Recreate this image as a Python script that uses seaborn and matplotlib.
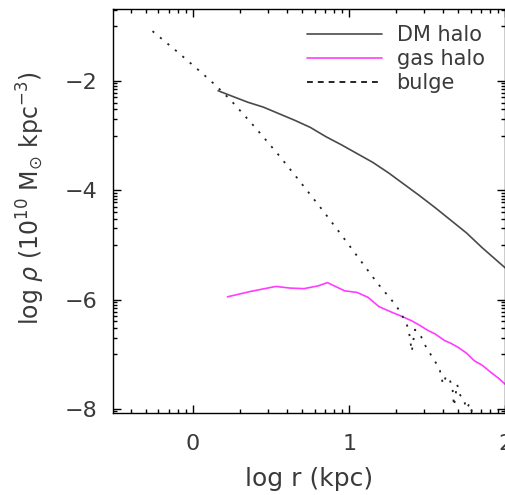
import numpy as np
import pandas as pd
import matplotlib
matplotlib.use("Agg")
import matplotlib.pyplot as plt
from matplotlib.lines import Line2D
from matplotlib.ticker import FixedLocator
import seaborn as sns

# Density profiles: log r [kpc] vs log rho [1e10 Msun kpc^-3]
dm_logr = [0.16, 0.25, 0.35, 0.45, 0.55, 0.65, 0.75, 0.85, 0.95, 1.05,
           1.15, 1.25, 1.35, 1.45, 1.55, 1.65, 1.75, 1.85, 1.95, 2.01]
dm_logrho = [-2.18, -2.28, -2.39, -2.48, -2.60, -2.72, -2.85, -3.02, -3.17, -3.33,
             -3.49, -3.68, -3.89, -4.10, -4.32, -4.55, -4.78, -5.05, -5.30, -5.45]

gas_logr = [0.22, 0.37, 0.53, 0.62, 0.71, 0.80, 0.86, 0.97, 1.05, 1.12, 1.19,
            1.27, 1.33, 1.40, 1.45, 1.50, 1.55, 1.61, 1.65, 1.70, 1.75, 1.80,
            1.85, 1.91, 1.96, 2.01]
gas_logrho = [-5.95, -5.85, -5.76, -5.79, -5.80, -5.75, -5.69, -5.84, -5.87, -5.96, -6.13,
              -6.23, -6.30, -6.39, -6.47, -6.56, -6.63, -6.75, -6.80, -6.88, -6.98, -7.12,
              -7.20, -7.34, -7.45, -7.58]

bulge_logr = [-0.26, -0.10, 0.05, 0.14, 0.24, 0.40, 0.54, 0.67, 0.83, 0.95, 1.07,
              1.18, 1.30, 1.36, 1.38, 1.40, 1.42, 1.44, 1.46, 1.48, 1.50, 1.52,
              1.54, 1.56, 1.58, 1.60, 1.62, 1.64, 1.66, 1.67, 1.69, 1.71, 1.73,
              1.75, 1.77, 1.80]
bulge_logrho = [-1.09, -1.47, -1.84, -2.07, -2.35, -2.86, -3.33, -3.79, -4.37, -4.82, -5.28,
                -5.70, -6.11, -6.40, -6.55, -6.95, -6.55, -6.62, -6.68, -6.80, -6.92, -7.00,
                -7.10, -7.18, -7.30, -7.55, -7.40, -7.45, -7.60, -7.95, -7.55, -7.75, -7.80,
                -8.00, -7.90, -8.20]

legend_labels = ["DM halo", "gas halo", "bulge"]
x_major = [0, 1, 2]
y_major = [-8, -6, -4, -2]

sns.set_theme(style="ticks")
plt.rcParams["font.family"] = ["DejaVu Sans"]
plt.rcParams["mathtext.fontset"] = "dejavusans"

text_color = "#3a3a3a"
dm_color = "#4a4a4a"
gas_color = "#ff3cff"
bulge_color = "#222222"

fig = plt.figure(figsize=(5.06, 4.95), dpi=100)
ax = fig.add_axes([113 / 506, 1 - 412.7 / 495, 392.5 / 506, (412.7 - 9.3) / 495])

dm = pd.DataFrame({"logr": dm_logr, "logrho": dm_logrho})
gas = pd.DataFrame({"logr": gas_logr, "logrho": gas_logrho})
bulge = pd.DataFrame({"logr": bulge_logr, "logrho": bulge_logrho})

sns.lineplot(data=dm, x="logr", y="logrho", ax=ax, color=dm_color, lw=1.2,
             sort=False, estimator=None)
sns.lineplot(data=gas, x="logr", y="logrho", ax=ax, color=gas_color, lw=1.2,
             sort=False, estimator=None)
sns.lineplot(data=bulge, x="logr", y="logrho", ax=ax, color=bulge_color, lw=1.3,
             sort=False, estimator=None, linestyle=(0, (1.2, 4.2)))

ax.set_xlim(-0.513, 2.0)
ax.set_ylim(-8.07, -0.69)

# Logarithmic-style minor ticks inside each decade
x_minor = [n + np.log10(k) for n in (-1, 0, 1) for k in range(2, 10)]
y_minor = [m - 1 + np.log10(k) for m in (-8, -6, -4, -2, 0) for k in range(1, 10)]
ax.xaxis.set_major_locator(FixedLocator(x_major))
ax.xaxis.set_minor_locator(FixedLocator(x_minor))
ax.yaxis.set_major_locator(FixedLocator(y_major))
ax.yaxis.set_minor_locator(FixedLocator(y_minor))

ax.tick_params(which="both", direction="in", top=True, right=True,
               color="black", width=1.0, labelcolor=text_color, labelsize=16)
ax.tick_params(which="major", length=6)
ax.tick_params(which="minor", length=3)
ax.tick_params(axis="x", which="major", pad=15)
ax.tick_params(axis="y", which="major", pad=11)

for s in ax.spines.values():
    s.set_color("black")
    s.set_linewidth(1.0)

ax.set_xlabel("log r (kpc)", fontsize=18, color=text_color)
ax.set_ylabel(r"log $\rho$ (10$^{10}$ M$_{\odot}$ kpc$^{-3}$)", fontsize=17,
              color=text_color)
ax.xaxis.set_label_coords(0.5, -0.135)
ax.yaxis.set_label_coords(-0.168, 0.532)

handles = [
    Line2D([], [], color=dm_color, lw=1.2),
    Line2D([], [], color=gas_color, lw=1.2),
    Line2D([], [], color="black", lw=1.2, linestyle=(0, (3.5, 3.0))),
]
leg = ax.legend(handles, legend_labels, loc="upper left",
                bbox_to_anchor=(307 / 506, 1 - 25 / 495), bbox_transform=fig.transFigure,
                frameon=False, fontsize=15, handlelength=3.6, handletextpad=0.7,
                labelspacing=0.2, borderaxespad=0, borderpad=0)
for t in leg.get_texts():
    t.set_color(text_color)

fig.savefig("out.png", dpi=100)
